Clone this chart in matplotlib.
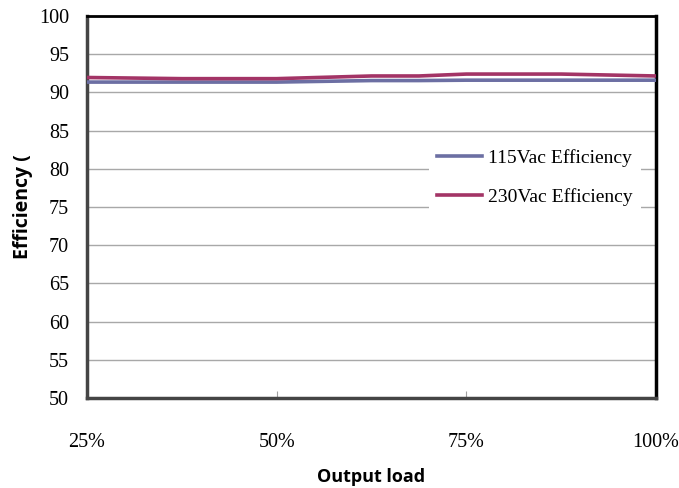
import matplotlib
matplotlib.use("Agg")
import matplotlib.pyplot as plt

load_pct = [25, 37.5, 50, 62.5, 68.75, 75, 87.5, 100]
eff_115 = [91.35, 91.35, 91.35, 91.55, 91.55, 91.6, 91.6, 91.6]
eff_230 = [91.95, 91.8, 91.8, 92.15, 92.15, 92.4, 92.4, 92.15]
x_ticks = [25, 50, 75, 100]
x_labels = ["25%", "50%", "75%", "100%"]
y_ticks = list(range(50, 101, 5))

fig = plt.figure(figsize=(6.79, 4.88), dpi=100)
ax = fig.add_axes([87/679, 1-398/488, (656-87)/679, (398-16)/488])

ax.plot(load_pct, eff_115, color="#6C6FA3", lw=2.6, label="115Vac Efficiency", zorder=3)
ax.plot(load_pct, eff_230, color="#A33466", lw=2.6, label="230Vac Efficiency", zorder=3)

ax.set_xlim(25, 100)
ax.set_ylim(50, 100)
ax.set_xticks(x_ticks)
ax.set_xticklabels(x_labels)
ax.set_yticks(y_ticks)
ax.yaxis.grid(True, color="#A8A8A8", lw=1.0)
ax.set_axisbelow(True)

for lab in ax.get_xticklabels() + ax.get_yticklabels():
    lab.set_family("Liberation Serif")
    lab.set_fontsize(14.5)
ax.tick_params(axis="x", direction="in", length=5, color="#A0A0A0", pad=25)
ax.tick_params(axis="y", direction="in", length=0, pad=13)

ax.spines["left"].set_color("#454545")
ax.spines["bottom"].set_color("#454545")
ax.spines["left"].set_linewidth(2.5)
ax.spines["bottom"].set_linewidth(2.5)
ax.spines["right"].set_color("black")
ax.spines["right"].set_linewidth(2.5)
ax.spines["top"].set_color("black")
ax.spines["top"].set_linewidth(2.0)

ax.set_xlabel("Output load", family="Open Sans", fontweight="bold", fontsize=13, labelpad=12)
ax.set_ylabel("Efficiency (", family="Open Sans", fontweight="bold", fontsize=14, labelpad=4)

leg = ax.legend(loc="upper left", bbox_to_anchor=((429-87)/569, 1-(141-16)/382),
                prop={"family": "Liberation Serif", "size": 14},
                frameon=True, fancybox=False, edgecolor="none", facecolor="white",
                framealpha=1, handlelength=2.3, handletextpad=0.35, labelspacing=1.1,
                borderaxespad=0)

fig.savefig("out.png", dpi=100)
